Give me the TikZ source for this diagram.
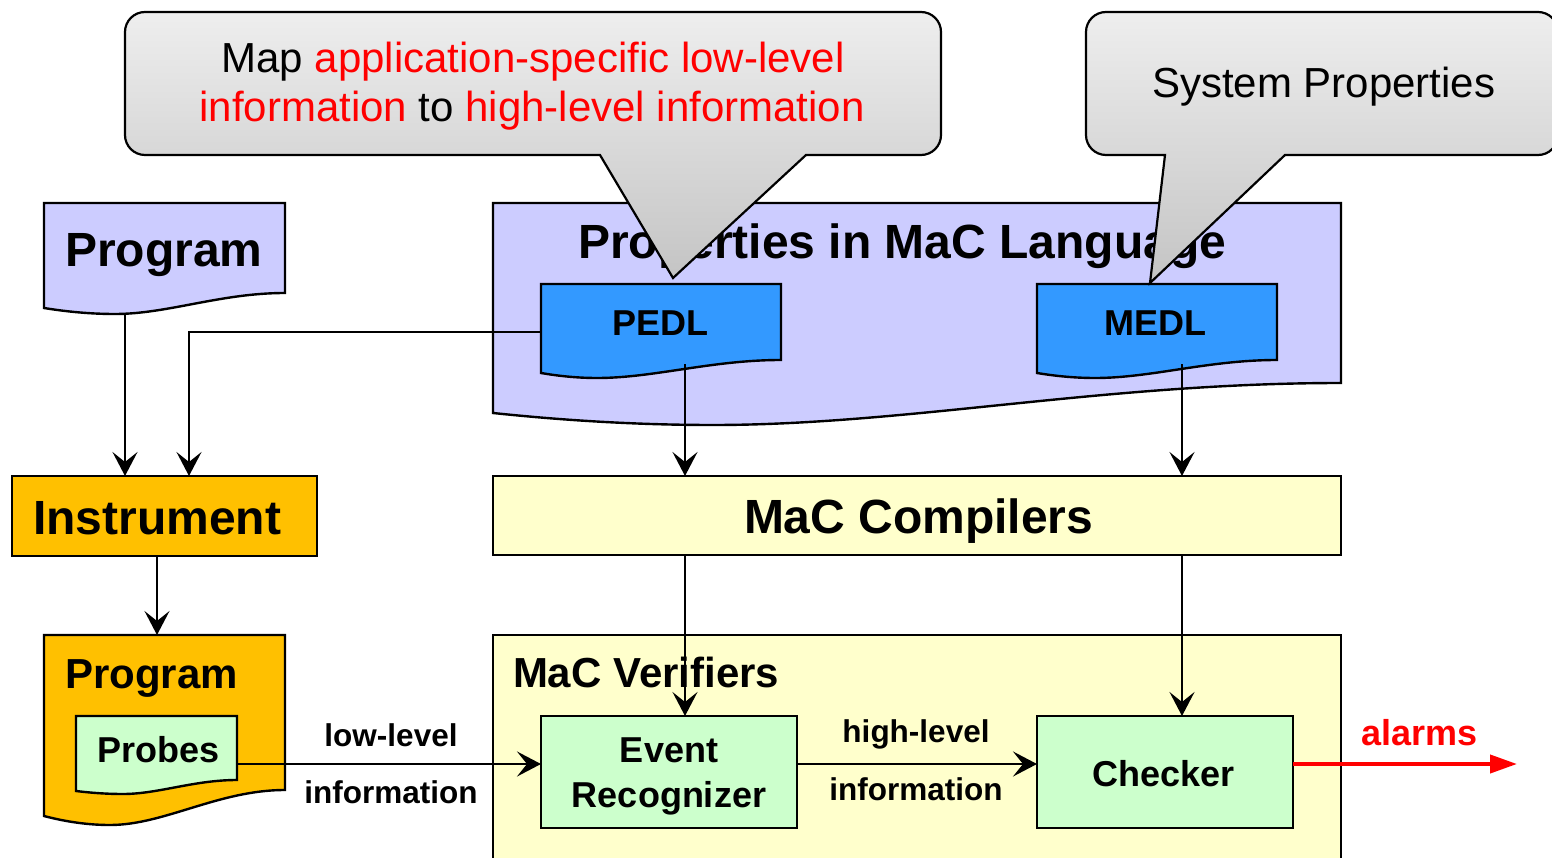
\documentclass[tikz,border=0pt]{standalone}
\usepackage{fontspec}
\setmainfont{Liberation Sans}
\usetikzlibrary{arrows.meta,calc}
\definecolor{lav}{HTML}{CCCCFF}
\definecolor{docblue}{HTML}{3399FF}
\definecolor{orng}{HTML}{FFC000}
\definecolor{lyel}{HTML}{FFFFCC}
\definecolor{lgrn}{HTML}{CCFFCC}
\definecolor{calltop}{HTML}{EEEEEE}
\definecolor{callbot}{HTML}{C4C4C4}
\newcommand\myfs[1]{\fontsize{#1}{#1}\selectfont}
% doc shape: L, T, R, y right bottom, y left bottom, x dip, y dip
\newcommand\docpath[7]{(#1,#2) -- (#3,#2) -- (#3,#4) .. controls ({#3-0.38*(#3-#6)},#4) and ({#6+0.31*(#3-#6)},#7) .. (#6,#7) .. controls ({#6-0.43*(#6-#1)},#7) and ({#1+0.21*(#6-#1)},{#5+0.4*(#7-#5)}) .. (#1,#5) -- cycle}
\tikzset{
  shapeline/.style={draw=black, line width=2.4pt, line join=miter},
  boxnode/.style={shapeline, inner sep=0pt, outer sep=0pt},
  anchorbox/.style={inner sep=0pt, outer sep=0pt},
  lbl/.style={inner sep=0pt, outer sep=0pt, font=\bfseries},
  arr/.style={draw=black, line width=2.4pt, -{Stealth[length=24pt,width=25pt,inset=10pt]}},
  redarr/.style={draw=red, line width=4pt, -{Triangle[length=27pt,width=18pt]}},
  callout/.style={draw=black, line width=2.2pt, top color=calltop, bottom color=callbot},
}
\begin{document}
\begin{tikzpicture}[x=1pt,y=-1pt]
\useasboundingbox (0,0) rectangle (1552,858);
\fill[white] (0,0) rectangle (1552,858);
\clip (0,0) rectangle (1552,858);

% ---------- shapes ----------
% Program (top)
\draw[shapeline, fill=lav] \docpath{44}{203}{285}{293}{308}{115}{314};
\node[anchorbox, minimum width=241pt, minimum height=90pt, anchor=north west] (prog) at (44,203) {};
% Properties in MaC Language
\draw[shapeline, fill=lav] \docpath{493}{203}{1341}{383}{413}{713}{425};
\node[anchorbox, minimum width=848pt, minimum height=180pt, anchor=north west] (props) at (493,203) {};
% PEDL / MEDL
\draw[shapeline, fill=docblue] \docpath{541}{284}{781}{360}{373}{597}{378};
\node[anchorbox, minimum width=240pt, minimum height=76pt, anchor=north west] (pedl) at (541,284) {};
\draw[shapeline, fill=docblue] \docpath{1037}{284}{1277}{360}{373}{1095}{378};
\node[anchorbox, minimum width=240pt, minimum height=76pt, anchor=north west] (medl) at (1037,284) {};
% Instrument
\node[boxnode, fill=orng, minimum width=305pt, minimum height=80pt] (instr) at (164.5,516) {};
% Program (instrumented)
\draw[shapeline, fill=orng] \docpath{44}{635}{285}{790}{816}{110}{825};
\node[anchorbox, minimum width=241pt, minimum height=155pt, anchor=north west] (prog2) at (44,635) {};
\draw[shapeline, fill=lgrn] \docpath{76}{716}{237}{780}{791}{123}{794};
\node[anchorbox, minimum width=161pt, minimum height=64pt, anchor=north west] (probes) at (76,716) {};
% MaC Compilers
\node[boxnode, fill=lyel, minimum width=848pt, minimum height=79pt] (comp) at (917,515.5) {};
% MaC Verifiers
\node[boxnode, fill=lyel, minimum width=848pt, minimum height=250pt, anchor=north] (verif) at (917,635) {};
% Event Recognizer / Checker
\node[boxnode, fill=lgrn, minimum width=256pt, minimum height=112pt] (er) at (669,772) {};
\node[boxnode, fill=lgrn, minimum width=256pt, minimum height=112pt] (chk) at (1165,772) {};

% ---------- texts ----------
\node[lbl, anchor=base west] (tprog) at (65,267) {\myfs{48}Program};
\node[lbl, anchor=base west] (tprops) at (578,259) {\myfs{48}Properties in MaC Language};
\node[lbl, anchor=base west] (tpedl) at (612,336) {\myfs{36}PEDL};
\node[lbl, anchor=base west] (tmedl) at (1104,336) {\myfs{36}MEDL};
\node[lbl, anchor=base west] (tinstr) at (33,534) {\myfs{48}Instrument};
\node[lbl, anchor=base west] (tcomp) at (744,533) {\myfs{48}MaC Compilers};
\node[lbl, anchor=base west] (tprog2) at (65,688) {\myfs{42}Program};
\node[lbl, anchor=base west] (tprobes) at (97,762) {\myfs{36}Probes};
\node[lbl, anchor=base west] (tverif) at (513,687) {\myfs{42}MaC Verifiers};
\node[lbl, anchor=base] (tev1) at (669,762) {\myfs{36}Event};
\node[lbl, anchor=base] (tev2) at (669,807) {\myfs{36}Recognizer};
\node[lbl, anchor=base west] (tchk) at (1092,786) {\myfs{36}Checker};
\node[lbl, anchor=base] (tlow1) at (391,746) {\myfs{31.5}low-level};
\node[lbl, anchor=base] (tlow2) at (391,803) {\myfs{31.5}information};
\node[lbl, anchor=base] (thigh1) at (916,742) {\myfs{31.5}high-level};
\node[lbl, anchor=base] (thigh2) at (916,800) {\myfs{31.5}information};
\node[lbl, anchor=base west, text=red] (talarm) at (1361,745) {\myfs{36}alarms};

% ---------- connectors ----------
\coordinate (progout) at ([xshift=-39.5pt,yshift=-20pt]prog.south);
\coordinate (pedlout) at ([xshift=24pt,yshift=-4pt]pedl.south);
\coordinate (medlout) at ([xshift=25pt,yshift=-4pt]medl.south);
\coordinate (lowin) at ([yshift=8pt]er.west);
\coordinate (alarmend) at ([xshift=224pt,yshift=8pt]chk.east);

\draw[arr] (progout) -- (progout |- instr.north);
\draw[arr] ([yshift=-10pt]pedl.west) -| ([xshift=24.5pt]instr.north);
\draw[arr] ([xshift=-7.5pt]instr.south) -- ([xshift=-7.5pt]prog2.north);
\draw[arr] (pedlout) -- (pedlout |- comp.north);
\draw[arr] (medlout) -- (medlout |- comp.north);
\draw[arr] (pedlout |- comp.south) -- (pedlout |- er.north);
\draw[arr] (medlout |- comp.south) -- (medlout |- chk.north);
\draw[arr] (probes.east |- lowin) -- (lowin);
\draw[arr] ([yshift=8pt]er.east) -- ([yshift=8pt]chk.west);
\draw[redarr] ([yshift=8pt]chk.east) -- (alarmend);

% ---------- callouts ----------
\path[callout, rounded corners=20pt] (941,80) -- (941,12) -- (125,12) -- (125,155)
   [sharp corners] -- (600,155) -- (673,278) -- (806,155) [rounded corners=20pt] -- (941,155) -- cycle;
\node[inner sep=0pt, anchor=base] (c1a) at (533,73) {\myfs{42}Map \textcolor{red}{application-specific low-level}};
\node[inner sep=0pt, anchor=base] (c1b) at (532,122) {\myfs{42}\textcolor{red}{information} to \textcolor{red}{high-level information}};

\path[callout, rounded corners=20pt] (1086,80) -- (1086,155)
   [sharp corners] -- (1165,155) -- (1150,283) -- (1285,155) [rounded corners=20pt] -- (1558,155) -- (1558,12) -- (1086,12) -- cycle;
\node[inner sep=0pt, anchor=base west] (c2) at (1152,98) {\myfs{42}System Properties};
\end{tikzpicture}
\end{document}
